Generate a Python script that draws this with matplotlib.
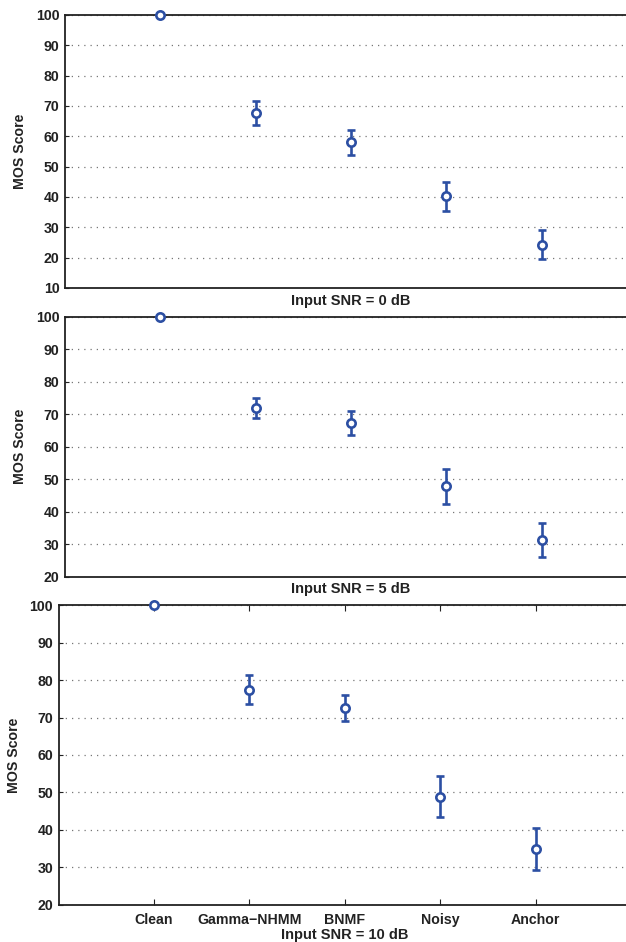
import matplotlib
matplotlib.use("Agg")
import matplotlib.pyplot as plt

categories = ['Clean', 'Gamma\u2212NHMM', 'BNMF', 'Noisy', 'Anchor']
positions = [1, 2, 3, 4, 5]

mos_0db = [100, 67.6, 58.0, 40.2, 24.3]
err_0db = [0, 3.9, 4.2, 4.9, 4.8]
mos_5db = [100, 72.0, 67.2, 47.8, 31.3]
err_5db = [0, 3.1, 3.7, 5.3, 5.3]
mos_10db = [100, 77.4, 72.5, 48.9, 34.9]
err_10db = [0, 3.85, 3.4, 5.6, 5.7]

titles = ['Input SNR = 0 dB', 'Input SNR = 5 dB', 'Input SNR = 10 dB']
ylims = [(10, 100), (20, 100), (20, 100)]

plt.rcParams['font.family'] = ['Liberation Sans', 'DejaVu Sans']
plt.rcParams['font.weight'] = 'bold'

W, H = 626, 942
fig = plt.figure(figsize=(W / 100, H / 100), dpi=100)

# pixel boxes: left, right, top, bottom
boxes = [(65, 637, 15, 288), (65, 637, 316.7, 576.7), (58.7, 631, 605.3, 904.7)]
ylabel_x = [20, 20, 14]
fs = 10.2
txt = '#222222'
color = '#2c4fa3'
data = [(mos_0db, err_0db), (mos_5db, err_5db), (mos_10db, err_10db)]

for i, ((l, r, t, b), (m, e)) in enumerate(zip(boxes, data)):
    ax = fig.add_axes([l / W, 1 - b / H, (r - l) / W, (b - t) / H])
    ax.errorbar(positions, m, yerr=e, fmt='o', color=color, markerfacecolor='white',
                markeredgecolor=color, markersize=6.0, markeredgewidth=1.9,
                elinewidth=1.9, capsize=3, capthick=1.9, clip_on=False, zorder=5)
    ax.set_xlim(0, 6)
    ax.set_ylim(*ylims[i])
    lo, hi = ylims[i]
    ax.set_yticks(range(lo, hi + 1, 10))
    ax.yaxis.grid(True, linestyle=(0, (1, 4)), color='#777777', linewidth=0.9)
    ax.set_axisbelow(True)
    ax.tick_params(axis='y', direction='in', length=3, labelsize=fs, width=0.8,
                   right=True, colors=txt, labelcolor=txt, pad=4)
    if i < 2:
        ax.set_xticks([])
    else:
        ax.set_xticks(positions)
        ax.set_xticklabels(categories)
        ax.tick_params(axis='x', direction='in', length=4, labelsize=fs, width=0.8,
                       top=True, colors=txt, labelcolor=txt, pad=6)
    for tl in ax.get_yticklabels() + ax.get_xticklabels():
        tl.set_fontweight('bold')
    ax.set_xlabel(titles[i], fontsize=10.5, fontweight='bold', color=txt,
                  labelpad=4 if i < 2 else 1)
    ax.set_ylabel('MOS Score', fontsize=fs, fontweight='bold', color=txt,
                  verticalalignment='center')
    ax.yaxis.set_label_coords(ylabel_x[i] / W, 1 - (t + b) / 2 / H,
                              transform=fig.transFigure)
    for sp in ax.spines.values():
        sp.set_linewidth(1.3)
        sp.set_color(txt)

fig.savefig('out.png', dpi=100)
